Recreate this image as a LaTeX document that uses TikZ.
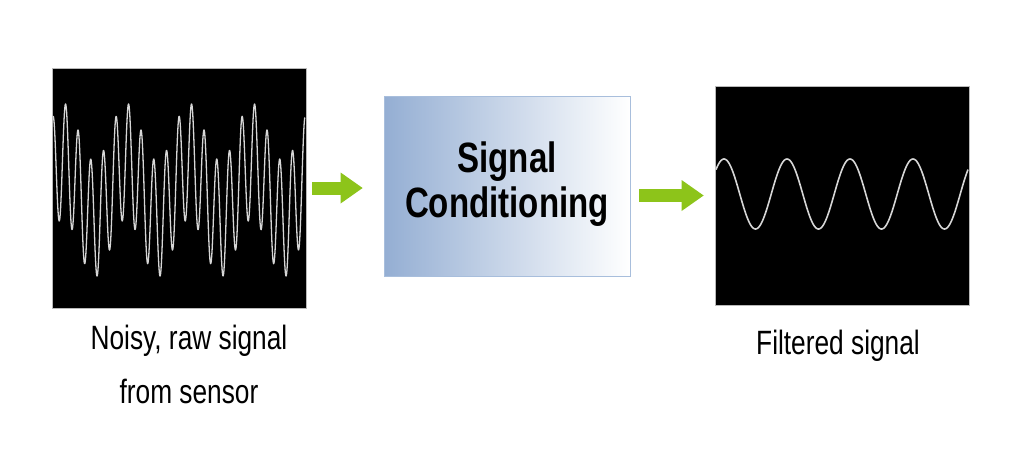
\documentclass[tikz,border=0pt]{standalone}
\usepackage{fontspec}
\setmainfont{Liberation Sans}[FakeStretch=0.78]
\usetikzlibrary{arrows.meta}
\definecolor{arrowgreen}{RGB}{141,196,26}
\definecolor{boxblue}{RGB}{148,174,211}
\definecolor{boxedge}{RGB}{168,190,220}
\definecolor{trace}{RGB}{214,214,214}
\newcommand{\lines}[1]{\begin{tabular}[t]{@{}c@{}}#1\end{tabular}}
\begin{document}
\begin{tikzpicture}[x=1pt,y=-1pt,
  screen/.style={rectangle, fill=black, draw=gray!55, line width=0.8pt, inner sep=0pt},
  condbox/.style={rectangle, draw=boxedge, line width=0.8pt, left color=boxblue, right color=white,
    minimum width=246pt, minimum height=180pt, inner sep=0pt,
    font=\bfseries\fontsize{42.4}{45}\selectfont},
  flow/.style={arrowgreen, line width=13pt, -{Triangle[length=22pt,width=31pt,line width=0pt]}},
  caption/.style={anchor=base, inner sep=0pt, font=\fontsize{33.7}{54}\selectfont},
  tracestyle/.style={trace, line join=round}
]
\fill[white] (0,0) rectangle (1024,452);
\useasboundingbox (0,0) rectangle (1024,452);

% screens
\node[screen, minimum width=254pt, minimum height=240pt] (raw) at (179,188) {};
\node[screen, minimum width=254pt, minimum height=219pt] (filt) at (842,195.5) {};

% conditioning block
\node[condbox] (cond) at (507,186) {\lines{Signal\\Conditioning}};

% traces
\draw[tracestyle, line width=1.3pt] plot[domain=0:1, samples=700]
  ({53+252*\x},{190-29*cos(1440*(\x-0.04))-58*cos(7200*\x)});
\draw[tracestyle, line width=1.6pt] plot[domain=0:252, samples=300]
  ({716+\x},{194-35*cos(5.7143*(\x-8))});

% connectors
\draw[flow, shorten <=6pt, shorten >=21pt] (raw.east) -- (cond.west |- raw.east);
\draw[flow, shorten <=9pt, shorten >=11pt] (cond.east |- filt.west) -- (filt.west);

% captions
\node[caption] (rawlabel) at (189,349) {\lines{Noisy, raw signal\\from sensor}};
\node[caption] (filtlabel) at (838,354) {\lines{Filtered signal}};
\end{tikzpicture}
\end{document}
